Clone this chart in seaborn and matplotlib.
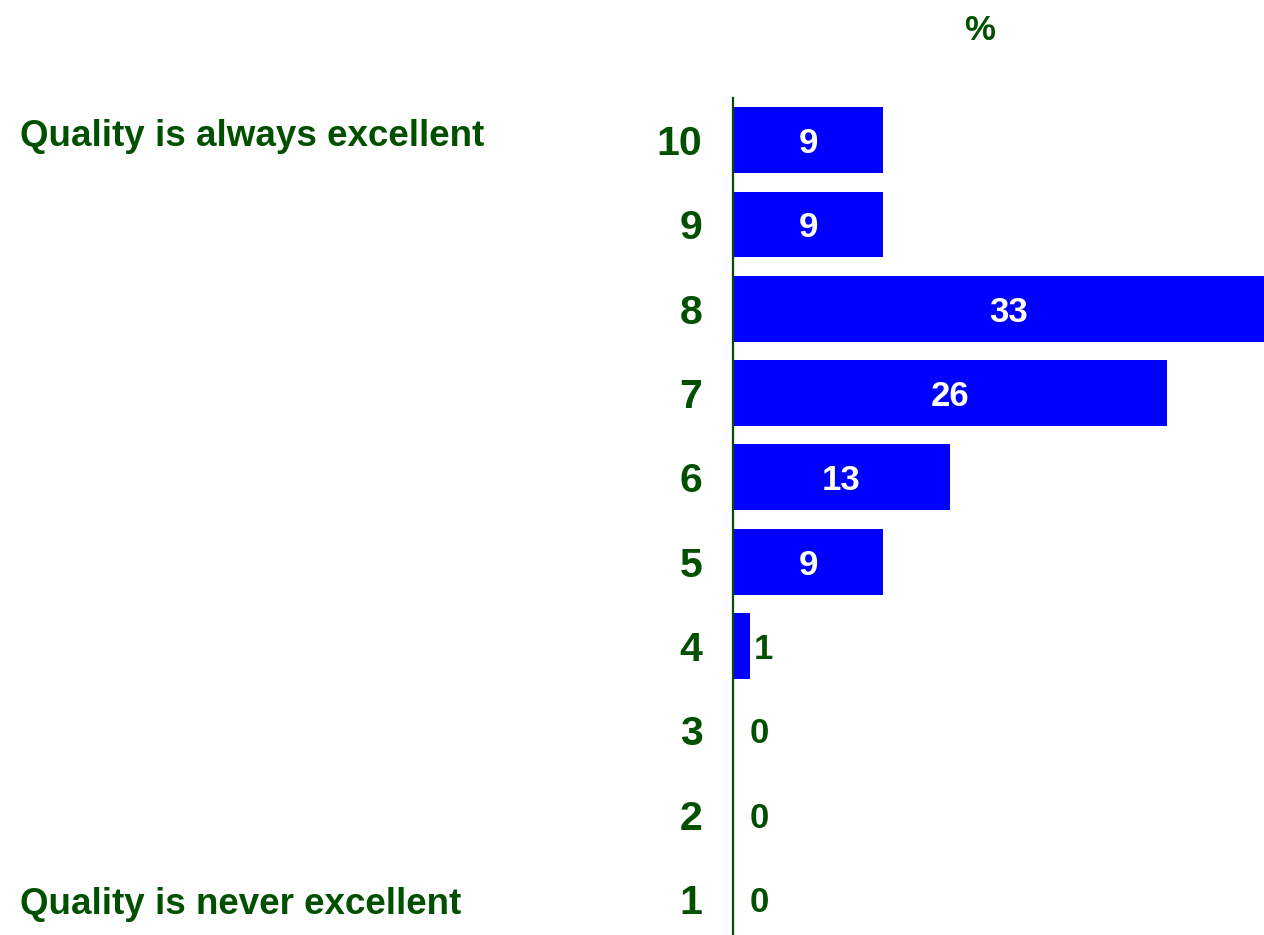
import matplotlib
matplotlib.use("Agg")
import matplotlib.pyplot as plt
import seaborn as sns
import pandas as pd

categories = ["10", "9", "8", "7", "6", "5", "4", "3", "2", "1"]
values = [9, 9, 33, 26, 13, 9, 1, 0, 0, 0]
top_label = "Quality is always excellent"
bottom_label = "Quality is never excellent"
unit_label = "%"

sns.set_theme(style="white")
plt.rcParams['font.family'] = ['Liberation Sans', 'DejaVu Sans']
plt.rcParams['font.weight'] = 'bold'

GREEN = "#005000"
BLUE = "#0000FF"

df = pd.DataFrame({"score": categories, "pct": values})

fig = plt.figure(figsize=(12.64, 9.35), dpi=100)
ax = fig.add_axes([733/1264, 1 - 941/935, 531/1264, (941 - 98)/935])

sns.barplot(data=df, x="pct", y="score", order=categories, orient="h",
            color=BLUE, saturation=1, width=0.78, ax=ax, edgecolor="none")

ax.set_xlim(0, 31.8)
ax.set_ylim(len(categories) - 0.5, -0.5)
ax.set_xlabel("")
ax.set_ylabel("")
ax.set_xticks([])
for s in ["top", "right", "bottom"]:
    ax.spines[s].set_visible(False)
ax.spines["left"].set_color(GREEN)
ax.spines["left"].set_linewidth(1.6)
ax.tick_params(axis="y", length=0, pad=22, labelsize=29.5, labelcolor=GREEN)
for lab in ax.get_yticklabels():
    lab.set_fontweight("bold")
    lab.set_verticalalignment("center_baseline")

for i, v in enumerate(values):
    if v >= 5:
        ax.text(v / 2, i, str(v), ha="center", va="center_baseline", color="white",
                fontsize=25, fontweight="bold", clip_on=False)
    else:
        off = 4 if v > 0 else 17
        ax.annotate(str(v), xy=(v, i), xytext=(off, 0), textcoords="offset pixels",
                    ha="left", va="center_baseline", color=GREEN, fontsize=25,
                    fontweight="bold")

fig.text(20/1264, 1 - 133/935, top_label, ha="left", va="center_baseline", color=GREEN,
         fontsize=26.5, fontweight="bold")
fig.text(20/1264, 1 - 901/935, bottom_label, ha="left", va="center_baseline", color=GREEN,
         fontsize=26.5, fontweight="bold")
fig.text(980/1264, 1 - 27/935, unit_label, ha="center", va="center_baseline", color=GREEN,
         fontsize=25, fontweight="bold")

fig.savefig("out.png", dpi=100)
